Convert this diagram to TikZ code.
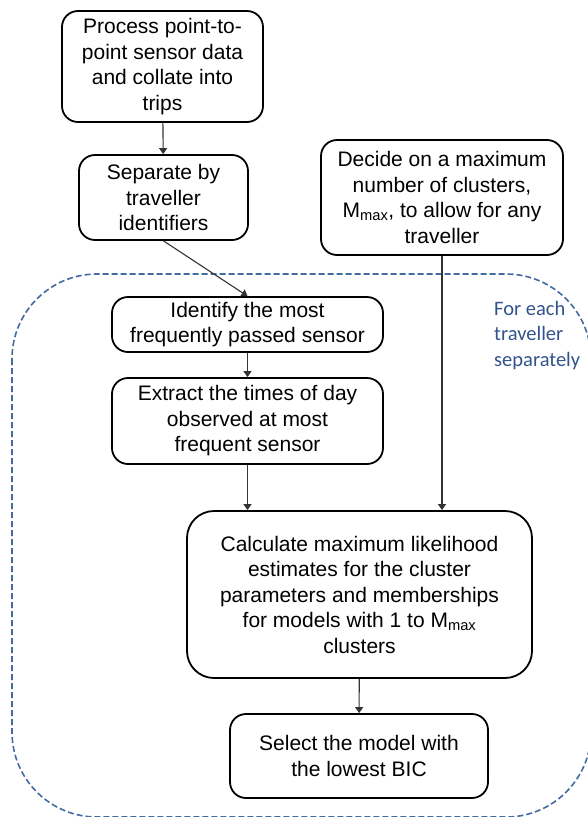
\documentclass[tikz,border=0pt]{standalone}
\usepackage{fontspec}
\setmainfont{Liberation Sans}
\newfontfamily\notefont{Carlito}
\usepackage{xcolor}
\usepackage{tikz}
\usetikzlibrary{arrows.meta}

\definecolor{loopblue}{RGB}{66,108,160}
\definecolor{loopnote}{RGB}{50,84,138}

\begin{document}
\begin{tikzpicture}[%
	x=1pt, y=-1pt,
	every node/.style={font=\fontsize{21}{25.5}\selectfont, align=center, inner sep=0pt},
	stepbox/.style={draw, line width=1.8pt, rounded corners=16pt},
	bigbox/.style={stepbox, rounded corners=27pt},
	flow/.style={draw=black!80, line width=1.1pt, -{Triangle[length=6pt,width=8pt]}},
	loop/.style={draw=loopblue, line width=1.6pt, dash pattern=on 6pt off 3pt, rounded corners=85pt}]
	\useasboundingbox (0,0) rectangle (588,817);
	\draw[loop] (12,274) rectangle (591,817);
	\node[loopnote, font=\notefont\fontsize{20.5}{25.5}\selectfont, align=left, anchor=north west] (note) at (494,301) {For each\\traveller\\separately};
	\node[stepbox, minimum width=201pt, minimum height=111pt] (process) at (162.5,66.5) {Process point-to-\\point sensor data\\and collate into\\trips};
	\node[stepbox, minimum width=169pt, minimum height=85pt] (separate) at (163.5,197.5) {Separate by\\traveller\\identifiers};
	\node[stepbox, minimum width=242pt, minimum height=115pt] (decide) at (442,197.5) {Decide on a maximum\\number of clusters,\\M\textsubscript{max}, to allow for any\\traveller};
	\node[stepbox, minimum width=271pt, minimum height=55pt] (identify) at (247.5,324.5) {Identify the most\\frequently passed sensor};
	\node[stepbox, minimum width=271pt, minimum height=86pt] (extract) at (247.5,421) {Extract the times of day\\observed at most\\frequent sensor};
	\node[bigbox, minimum width=345pt, minimum height=167pt] (estimate) at (359.5,594.5) {Calculate maximum likelihood\\estimates for the cluster\\parameters and memberships\\for models with 1 to M\textsubscript{max}\\clusters};
	\node[stepbox, minimum width=258pt, minimum height=84pt] (select) at (359,756) {Select the model with\\the lowest BIC};
	\draw[flow] (process) -- (separate);
	\draw[flow] (separate.south) -- (identify.north);
	\draw[flow] (identify) -- (extract);
	\draw[flow] (extract) -- (extract |- estimate.north);
	\draw[flow] (decide) -- (decide |- estimate.north);
	\draw[flow] (estimate) -- (select);
\end{tikzpicture}
\end{document}
